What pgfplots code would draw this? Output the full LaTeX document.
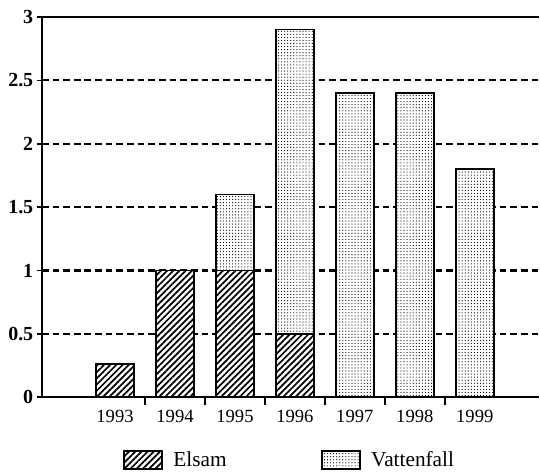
\documentclass[border=0pt]{standalone}
\usepackage{fontspec}
\setmainfont{Liberation Serif}
\usepackage{pgfplots}
\pgfplotsset{compat=1.18}
\usetikzlibrary{patterns.meta}

\tikzset{
  elsam/.style={fill=white, draw=black, line width=1.2pt,
    postaction={pattern={Lines[angle=45,distance=3.3pt,line width=1.3pt]}}},
  vatten/.style={fill=white, draw=black, line width=1.2pt,
    postaction={pattern={Dots[distance=2.3pt,radius=0.45pt]}}},
}

\begin{document}
\begin{tikzpicture}
\begin{axis}[
    width=373.5pt, height=285.75pt, scale only axis,
    xmin=-1.22, xmax=7.07,
    ymin=0, ymax=3,
    ybar stacked, bar width=28.5pt,
    axis x line*=bottom, axis y line*=left,
    axis line style={black, line width=1.6pt, -},
    /pgf/number format/assume math mode=true,
    xtick={0,1,2,3,4,5,6},
    xticklabels={1993,1994,1995,1996,1997,1998,1999},
    xtick style={draw=none},
    extra x ticks={0.5,1.5,2.5,3.5,4.5,5.5},
    extra x tick labels={},
    extra x tick style={xtick style={draw=black, line width=1.2pt}, major tick length=6pt, tick align=outside},
    ytick={0,0.5,1,1.5,2,2.5},
    ytick style={black, line width=1.2pt},
    tick align=outside, major tick length=4pt,
    ymajorgrids=true,
    grid style={black, line width=1.6pt, dash pattern=on 5pt off 3pt},
    extra y ticks={3},
    extra y tick style={ymajorgrids=true, major grid style={black, solid, line width=1.6pt}},
    xticklabel style={font=\fontsize{14}{16}\selectfont, yshift=-2pt},
    yticklabel style={font=\bfseries\fontsize{15}{17}\selectfont, xshift=1pt},
    legend columns=2,
    legend style={at={(0.499,-0.165)}, anchor=center, draw=none,
        font=\fontsize{16}{18}\selectfont,
        /tikz/every odd column/.append style={column sep=6pt},
        /tikz/every even column/.append style={column sep=69pt}},
    legend image code/.code={\draw[#1] (0pt,-6.75pt) rectangle (28.5pt,6.75pt);},
]
\addplot[elsam] coordinates {(0,0.26) (1,1.0) (2,1.0) (3,0.5) (4,0) (5,0) (6,0)};
\addplot[vatten] coordinates {(0,0) (1,0) (2,0.6) (3,2.4) (4,2.4) (5,2.4) (6,1.8)};
\legend{Elsam, Vattenfall}
\end{axis}
\path ([xshift=-31.5pt,yshift=12.75pt]current axis.north west) rectangle ([yshift=-58.5pt]current axis.south east);
\end{tikzpicture}
\end{document}
